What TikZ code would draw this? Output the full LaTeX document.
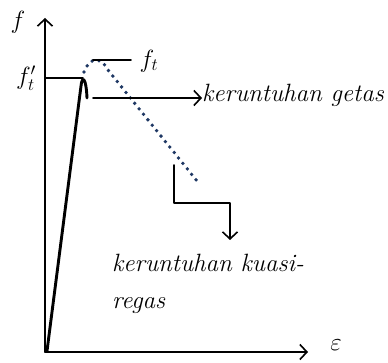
\documentclass[tikz,border=0pt]{standalone}
\usepackage{amsmath, amssymb}
\usetikzlibrary{arrows.meta, positioning}

\begin{document}
\begin{tikzpicture}[x=1pt, y=-1pt, line cap=round, line join=round,
  freccia/.style={-{Straight Barb[length=7pt,width=15pt,line width=1.6pt]}, line width=1.6pt},
  testo/.style={font=\fontsize{25}{30}\selectfont\itshape, inner sep=0pt},
  etichetta/.style={font=\fontsize{25}{30}\selectfont, inner sep=0pt}]
\useasboundingbox (0,0) rectangle (388,363);

% assi
\coordinate (O) at (45,352);
\coordinate (Ytop) at (45,18);
\coordinate (Xend) at (308,352);
\draw[freccia] (O) -- (Ytop);
\draw[freccia] (O) -- (Xend);
\node[etichetta] (f) at (18,22) {$f$};
\node[etichetta] (eps) at (336,345) {$\varepsilon$};

% livello f_t'
\node[etichetta] (fti) at (26,78) {$f_t'$};
\draw[line width=1.9pt] (45,78) -- (83,78);

% curva fragile (spessa)
\draw[line width=2.9pt] (47,351) -- (81,86)
  .. controls (82,76) and (86,76) .. (87,98);

% curva quasi-fragile (punteggiata)
\draw[line width=3.8pt, color={rgb,255:red,31;green,56;blue,100},
      dash pattern=on 0pt off 7pt]
  (84,72) .. controls (89,58) and (100,55) .. (108,70)
  -- (197,181);

% livello f_t
\draw[line width=1.9pt] (93,60) -- (131,60);
\node[etichetta] (ft) at (149,61) {$f_t$};

% rottura fragile
\coordinate (g0) at (93,98);
\node[testo, anchor=base west] (getas) at (202,102) {keruntuhan getas};
\draw[freccia] (g0) -- (getas.west |- g0);

% rottura quasi-fragile
\coordinate (k0) at (174,165);
\node[testo, anchor=base west] (kuasi) at (112,272) {keruntuhan kuasi-};
\node[testo, anchor=base west] (regas) at (112,308) {regas};
\draw[freccia] (k0) -- (174,203) -- (230,203) -- (230,240);

\end{tikzpicture}
\end{document}
